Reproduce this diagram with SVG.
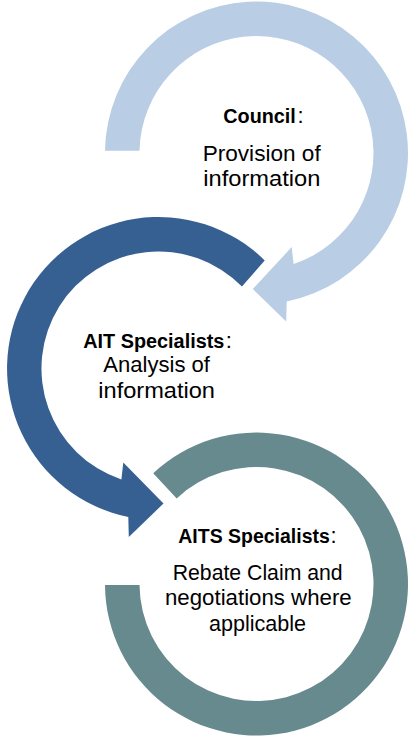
<svg xmlns="http://www.w3.org/2000/svg" width="410" height="737" viewBox="0 0 410 737">
<style>
.t{font-family:"Liberation Sans",Arial,sans-serif;font-size:22px;fill:#000}
.b{font-weight:bold;font-size:20px}
.c1{fill:#B9CDE5}
.c2{fill:#376092}
.c3{fill:#678A8E}
</style>
<rect width="410" height="737" fill="#ffffff"/>
<g id="council">
<path class="c1" d="M 105,150.7 A 151.5 151.5 0 1 1 286.7,301.5 L 286.2,321.4 L 252.8,289 L 291.7,247.1 L 293.6,264 A 117 117 0 1 0 139.5,150.7 Z"/>
<text class="t b" x="223.3" y="123" textLength="72.5" lengthAdjust="spacingAndGlyphs">Council</text>
<text class="t" x="297.5" y="123">:</text>
<text class="t" x="202.7" y="160.5" textLength="118" lengthAdjust="spacingAndGlyphs">Provision of</text>
<text class="t" x="203.3" y="186" textLength="117" lengthAdjust="spacingAndGlyphs">information</text>
</g>
<g id="ait-specialists">
<path class="c2" d="M 264.7,260.4 A 151.5 151.5 0 1 0 128.3,516.95 L 128.8,536.9 L 163.5,503.5 L 123.3,462.6 L 121.4,479.45 A 117 117 0 1 1 241.95,286.5 Z"/>
<text class="t b" x="83.3" y="347.7" textLength="141" lengthAdjust="spacingAndGlyphs">AIT Specialists</text>
<text class="t" x="225.8" y="347.7">:</text>
<text class="t" x="103.3" y="372.3" textLength="106.7" lengthAdjust="spacingAndGlyphs">Analysis of</text>
<text class="t" x="98.3" y="398.3" textLength="116.7" lengthAdjust="spacingAndGlyphs">information</text>
</g>
<g id="aits-specialists">
<path class="c3" d="M 153.2,473.2 A 151.5 151.5 0 1 1 105,585 L 139.5,585 A 117 117 0 1 0 176.7,498.4 Z"/>
<text class="t b" x="178.3" y="543.3" textLength="151.5" lengthAdjust="spacingAndGlyphs" style="font-size:19.5px">AITS Specialists</text>
<text class="t" x="330.6" y="543.3">:</text>
<text class="t" x="172.7" y="580" textLength="170" lengthAdjust="spacingAndGlyphs">Rebate Claim and</text>
<text class="t" x="165" y="605" textLength="186.7" lengthAdjust="spacingAndGlyphs">negotiations where</text>
<text class="t" x="209" y="630.5" textLength="97" lengthAdjust="spacingAndGlyphs">applicable</text>
</g>
</svg>
